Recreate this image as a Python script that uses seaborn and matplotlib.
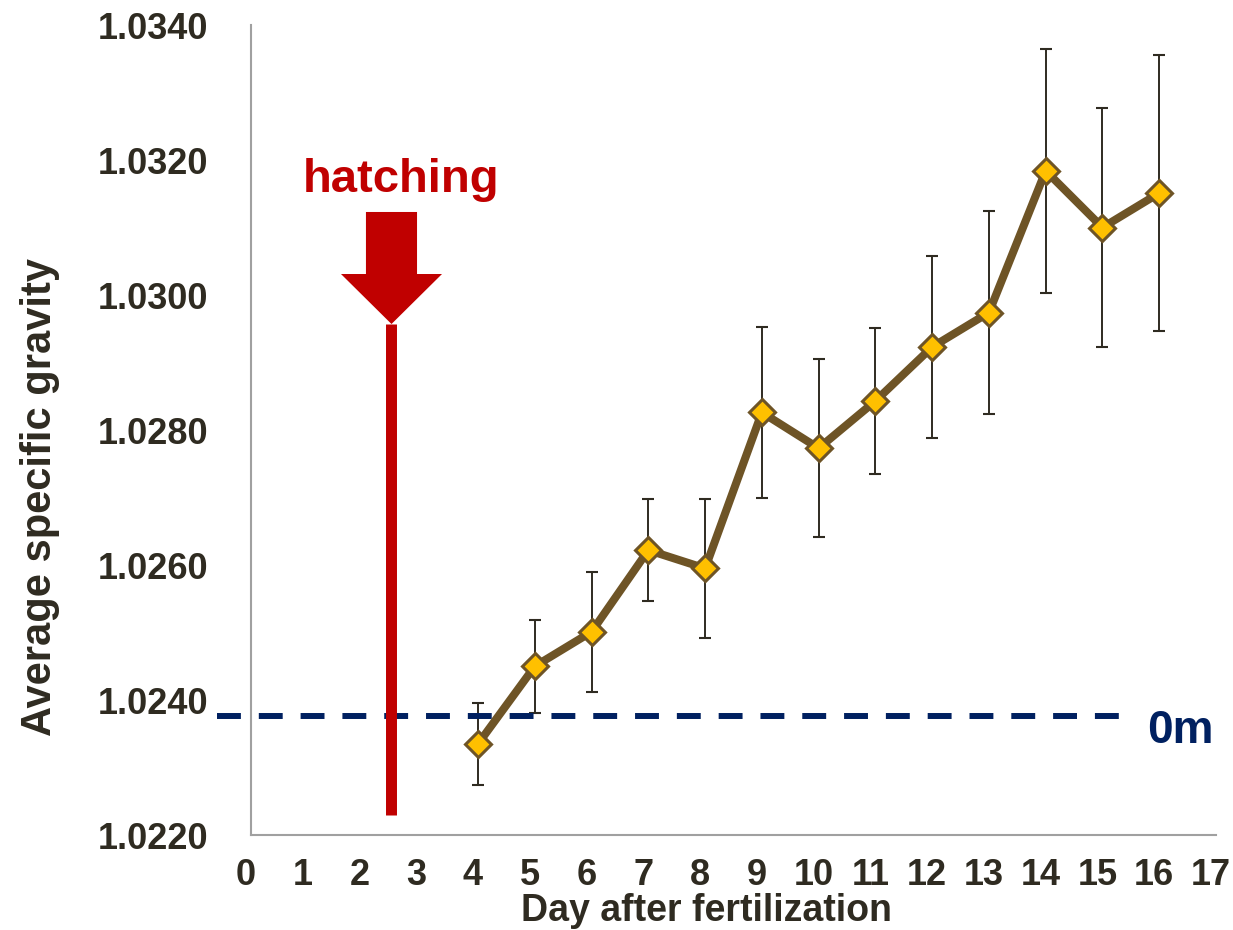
import matplotlib
matplotlib.use("Agg")
import matplotlib.pyplot as plt
import matplotlib.transforms as mtransforms
from matplotlib.patches import FancyArrow
import numpy as np
import pandas as pd
import seaborn as sns

# Mean specific gravity of larvae by day after fertilization, with error ranges
days = [4, 5, 6, 7, 8, 9, 10, 11, 12, 13, 14, 15, 16]
mean_sg = [1.02335, 1.02450, 1.02501, 1.02622, 1.02595, 1.02826, 1.02773,
           1.02843, 1.02923, 1.02974, 1.03184, 1.03100, 1.03151]
err_sg = [0.00061, 0.00069, 0.00089, 0.00076, 0.00103, 0.00127, 0.00132,
          0.00108, 0.00135, 0.00151, 0.00181, 0.00177, 0.00204]

# Reference level: specific gravity of sea water at the surface (0 m)
surface_sg = 1.02376
surface_label = "0m"

# Hatching event
hatch_day = 2.475
hatch_label = "hatching"

x_ticks = list(range(0, 18))
y_ticks = [1.0220, 1.0240, 1.0260, 1.0280, 1.0300, 1.0320, 1.0340]

df = pd.DataFrame({"day": days, "sg": mean_sg, "err": err_sg})

sns.set_theme(style="white")
plt.rcParams["font.family"] = ["Liberation Sans", "DejaVu Sans"]
plt.rcParams["font.weight"] = "bold"

TEXT = "#2F2B21"
SPINE = "#A0A0A0"
BROWN = "#6E5426"
GOLD = "#FFC000"
RED = "#C00000"
NAVY = "#002060"

fig = plt.figure(figsize=(12.33, 9.3), dpi=100)
ax = fig.add_axes([251 / 1233, 95 / 930, 965 / 1233, 810 / 930])

# error bars
ax.errorbar(df["day"], df["sg"], yerr=df["err"], fmt="none", ecolor=TEXT,
            elinewidth=1.4, capsize=4.3, capthick=1.5, zorder=2)

# surface reference line
ax.plot([-0.6, 15.33], [surface_sg, surface_sg], color=NAVY, lw=4.3,
        linestyle=(0, (4.0, 3.0)), clip_on=False, zorder=3)
ax.text(16.37, 1.023363, surface_label, color=NAVY, fontsize=33,
        fontweight="bold", ha="center", va="baseline", zorder=5)

# mean specific gravity line with diamond markers
sns.lineplot(data=df, x="day", y="sg", ax=ax, color=BROWN, linewidth=5.8,
             marker="D", markersize=13, markerfacecolor=GOLD,
             markeredgecolor=BROWN, markeredgewidth=2.2, zorder=4)

# hatching marker: vertical bar with a block arrow above it
ax.plot([hatch_day, hatch_day], [1.022296, 1.02957], color=RED, lw=7.9,
        solid_capstyle="butt", zorder=3)
ax.add_patch(FancyArrow(hatch_day, 1.03123, 0, 1.02957 - 1.03123,
                        width=0.9, head_width=1.78, head_length=0.000741,
                        length_includes_head=True, color=RED, lw=0,
                        zorder=3))
ax.text(2.64, 1.031526, hatch_label, color=RED, fontsize=34,
        fontweight="bold", ha="center", va="baseline")

ax.set_xlim(0, 17)
ax.set_ylim(1.0220, 1.0340)
ax.set_xticks(x_ticks)
ax.set_xticklabels([str(t) for t in x_ticks])
ax.set_yticks(y_ticks)
ax.set_yticklabels([f"{t:.4f}" for t in y_ticks])

for side in ("top", "right"):
    ax.spines[side].set_visible(False)
for side in ("left", "bottom"):
    ax.spines[side].set_color(SPINE)
    ax.spines[side].set_linewidth(1.5)

ax.tick_params(axis="both", which="major", direction="out", length=7.5,
               width=1.5, color=SPINE, labelcolor=TEXT, labelsize=26)
ax.tick_params(axis="y", pad=23)
ax.tick_params(axis="x", pad=9)
shift = mtransforms.ScaledTranslation(-5 / 100, 0, fig.dpi_scale_trans)
for lbl in ax.get_xticklabels():
    lbl.set_transform(lbl.get_transform() + shift)
    lbl.set_fontweight("bold")
for lbl in ax.get_yticklabels():
    lbl.set_fontweight("bold")

ax.set_xlabel("Day after fertilization", fontsize=27, fontweight="bold",
              color=TEXT)
ax.set_ylabel("Average specific gravity", fontsize=30, fontweight="bold",
              color=TEXT)
ax.xaxis.set_label_coords(0.472, -0.0715)
ax.yaxis.set_label_coords(-0.198, 0.4167)

fig.savefig("out.png", dpi=100, facecolor="white")
